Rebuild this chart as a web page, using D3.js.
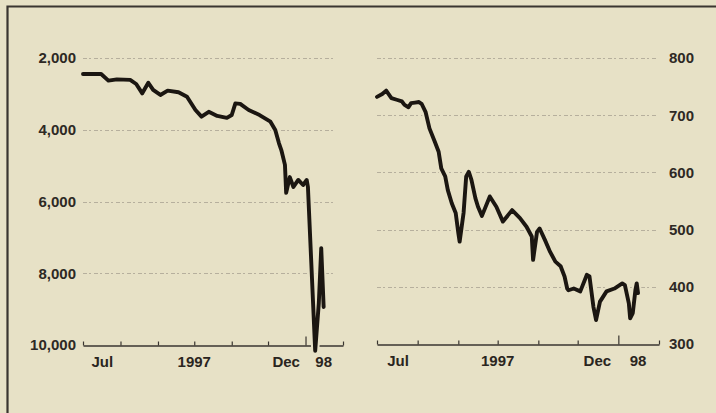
<!DOCTYPE html>
<html>
<head>
<meta charset="utf-8">
<script src="https://cdn.jsdelivr.net/npm/d3@7"></script>
<style>
  html, body { margin: 0; padding: 0; background: #e7e1c6; }
  svg { display: block; font-family: 'Liberation Sans', Arial, sans-serif; }
</style>
</head>
<body>
<svg id="chart" width="716" height="413"></svg>
<script>
// rupiah per dollar (left, inverted) and stock index (right), Jul 97 - Jan 98
const rupiahDates = ['1997-07-01','1997-07-16','1997-07-22','1997-07-29','1997-08-09','1997-08-14',
  '1997-08-19','1997-08-24','1997-08-28','1997-09-03','1997-09-09','1997-09-18','1997-09-25',
  '1997-10-02','1997-10-07','1997-10-13','1997-10-20','1997-10-28','1997-11-01','1997-11-04',
  '1997-11-08','1997-11-15','1997-11-24','1997-12-03','1997-12-07','1997-12-10','1997-12-12',
  '1997-12-15','1997-12-16','1997-12-19','1997-12-22','1997-12-26','1997-12-30','1998-01-02',
  '1998-01-03','1998-01-09','1998-01-12','1998-01-14','1998-01-16'];
const rupiahValues = [2446, 2446, 2630, 2595, 2610, 2725, 2985, 2690, 2890, 3030, 2910, 2955, 3080,
  3450, 3635, 3500, 3615, 3670, 3590, 3265, 3280, 3450, 3590, 3775, 4005, 4370, 4565,
  4980, 5760, 5320, 5595, 5400, 5540, 5400, 5595, 10160, 8830, 7300, 8940];

const indexDates = ['1997-07-01','1997-07-05','1997-07-08','1997-07-12','1997-07-16','1997-07-20',
  '1997-07-22','1997-07-25','1997-07-27','1997-07-30','1997-08-02','1997-08-04','1997-08-07',
  '1997-08-10','1997-08-14','1997-08-17','1997-08-19','1997-08-22','1997-08-24','1997-08-27',
  '1997-08-30','1997-09-01','1997-09-02','1997-09-05','1997-09-07','1997-09-09','1997-09-11',
  '1997-09-14','1997-09-16','1997-09-19','1997-09-25','1997-09-30','1997-10-05','1997-10-12',
  '1997-10-18','1997-10-23','1997-10-27','1997-10-28','1997-10-31','1997-11-02','1997-11-06',
  '1997-11-10','1997-11-14','1997-11-18','1997-11-21','1997-11-23','1997-11-24','1997-11-28',
  '1997-12-03','1997-12-08','1997-12-10','1997-12-13','1997-12-15','1997-12-18','1997-12-23',
  '1997-12-29','1998-01-04','1998-01-06','1998-01-09','1998-01-10','1998-01-12','1998-01-14',
  '1998-01-15','1998-01-16'];
const indexValues = [732, 737, 743, 730, 727, 724, 718, 714, 721, 722, 723, 720, 706,
  677, 654, 636, 607, 593, 569, 546, 529, 494, 479, 529, 593, 601, 587,
  555, 540, 524, 558, 540, 514, 534, 520, 505, 488, 447, 496, 502, 482,
  461, 444, 436, 418, 397, 394, 397, 392, 421, 418, 365, 342, 374, 392,
  397, 406, 403, 371, 345, 354, 394, 406, 389];

const rupiahTicks = [2000, 4000, 6000, 8000, 10000];
const indexTicks = [300, 400, 500, 600, 700, 800];
const xLabels = ['Jul', '1997', 'Dec', '98'];
const xLabelDates = ['1997-07-17', '1997-10-01', '1997-12-16', '1998-01-16'];
const xDomain = ['1997-07-01', '1998-02-01'];

let parse = d3.timeParse('%Y-%m-%d');
let bg = '#e7e1c6';
let ink = '#1b1611';
let svg = d3.select('#chart');

svg.append('rect').attr('width', 716).attr('height', 413).attr('fill', bg);

// frame, only top and left edges fall inside the picture
svg.append('path')
  .attr('d', 'M7.5,413V6.5H716')
  .attr('fill', 'none')
  .attr('stroke', '#3a3530')
  .attr('stroke-width', 2.2);

function panel(opts) {
  let sx = d3.scaleTime().domain(xDomain.map(parse)).range(opts.xr);
  let sy = d3.scaleLinear().domain(opts.yd).range(opts.yr);
  let g = svg.append('g');

  // dotted gridlines (not at the axis value)
  g.append('g').selectAll('line')
    .data(opts.ticks.filter(t => t !== opts.base))
    .join('line')
      .attr('x1', opts.xr[0]).attr('x2', opts.gridEnd)
      .attr('y1', d => Math.round(sy(d)) + 0.5).attr('y2', d => Math.round(sy(d)) + 0.5)
      .attr('stroke', '#7a746a')
      .attr('stroke-opacity', 0.45)
      .attr('stroke-dasharray', '4,2,2,3');

  // value labels
  let yAxis = opts.side === 'left'
    ? d3.axisLeft(sy).tickValues(opts.ticks).tickSize(0).tickPadding(7).tickFormat(d3.format(','))
    : d3.axisRight(sy).tickValues(opts.ticks).tickSize(0).tickPadding(10).tickFormat(d3.format(','));
  g.append('g')
    .attr('transform', `translate(${opts.side === 'left' ? opts.xr[0] : opts.xr[1]},0)`)
    .call(yAxis)
    .call(a => a.select('.domain').remove())
    .call(a => a.selectAll('text')
      .attr('font-size', 15).attr('font-weight', 'bold').attr('fill', '#2e2924')
      .attr('font-family', 'Liberation Sans, Arial, sans-serif'));

  // month axis with small upward ticks
  let xAxis = d3.axisBottom(sx)
    .ticks(d3.timeMonth.every(1))
    .tickSizeInner(-4).tickSizeOuter(0)
    .tickFormat('');
  let base = Math.round(sy(opts.base)) + 0.5;
  g.append('g')
    .attr('transform', `translate(0,${base})`)
    .call(xAxis)
    .call(a => a.select('.domain').attr('stroke', '#3a3530').attr('stroke-width', 1.6))
    .call(a => a.selectAll('.tick line').attr('stroke', '#3a3530').attr('stroke-width', 1.2)
      .attr('y2', d => d.getMonth() === 0 ? -9 : -4));

  g.append('g').selectAll('text')
    .data(xLabels)
    .join('text')
      .attr('x', (d, i) => sx(parse(xLabelDates[i])))
      .attr('y', base + 21)
      .attr('text-anchor', 'middle')
      .attr('font-size', 15)
      .attr('font-weight', 'bold')
      .attr('fill', '#2a2520')
      .text(d => d);

  let pts = opts.dates.map((d, i) => [sx(parse(d)), sy(opts.values[i])]);
  let line = d3.line();
  g.append('path')
    .attr('d', line(pts))
    .attr('fill', 'none')
    .attr('stroke', bg)
    .attr('stroke-width', 8)
    .attr('stroke-linejoin', 'round');
  g.append('path')
    .attr('d', line(pts))
    .attr('fill', 'none')
    .attr('stroke', ink)
    .attr('stroke-width', 3.9)
    .attr('stroke-linejoin', 'round')
    .attr('stroke-linecap', 'round');
}

panel({
  side: 'left', xr: [83, 343], yd: [2000, 10000], yr: [58, 345], gridEnd: 335,
  ticks: rupiahTicks, base: 10000, dates: rupiahDates, values: rupiahValues
});

panel({
  side: 'right', xr: [377, 659], yd: [300, 800], yr: [344, 58], gridEnd: 656,
  ticks: indexTicks, base: 300, dates: indexDates, values: indexValues
});
</script>
</body>
</html>
